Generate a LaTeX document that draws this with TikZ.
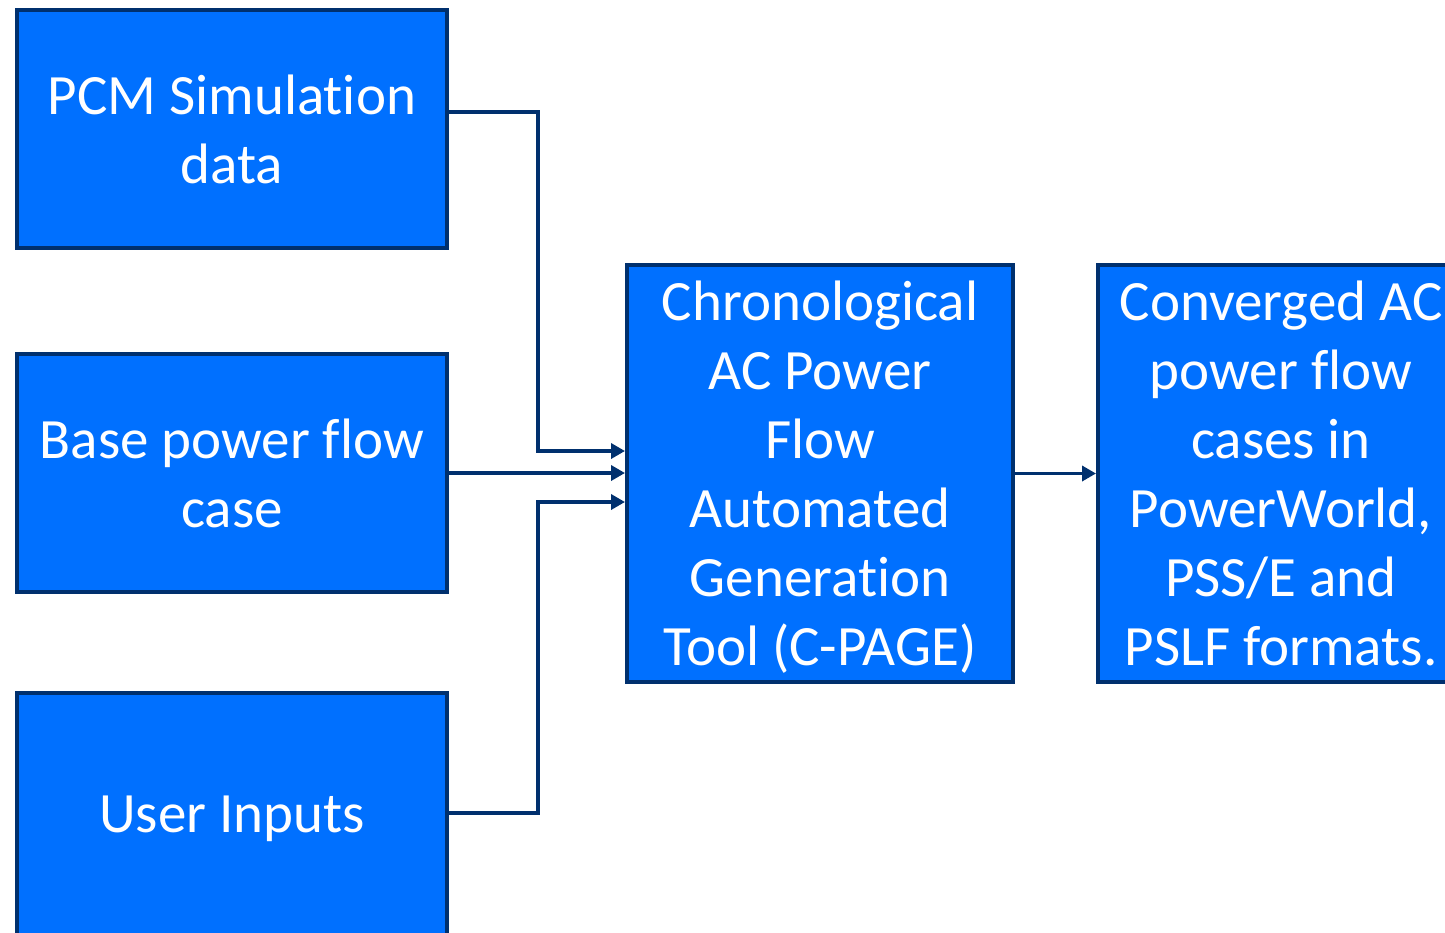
\documentclass[tikz,border=0pt]{standalone}
\usepackage{fontspec}
\setmainfont{Carlito}[Ligatures=NoCommon]
\usetikzlibrary{arrows.meta}
\definecolor{boxfill}{HTML}{0070FF}
\definecolor{boxedge}{HTML}{00306E}
% a strut that lowers the lines of the tall boxes a little
\newcommand{\headroom}{\rule{0pt}{54.5pt}}
\tikzset{
  flowbox/.style={draw=boxedge, line width=4pt, fill=boxfill, text=white,
    inner sep=0pt, font=\fontsize{57}{69}\selectfont},
  conn/.style={draw=boxedge, line width=3.5pt,
    -{Triangle[length=14pt,width=15pt]}}
}
\begin{document}
\begin{tikzpicture}[x=1pt,y=-1pt]
  \useasboundingbox (0,0) rectangle (1445,932);
  % input boxes
  \node[flowbox, align=center, minimum width=430pt, minimum height=238pt] (pcm) at (232,129)
    {PCM Simulation\\data};
  \node[flowbox, align=center, minimum width=430pt, minimum height=238pt] (base) at (232,473)
    {Base power flow\\case};
  \node[flowbox, align=center, minimum width=430pt, minimum height=252pt] (user) at (232,819)
    {User Inputs};
  % tool box
  \node[flowbox, minimum width=386pt, minimum height=417pt] (tool) at (820,473.5)
    {\begin{tabular}{@{}c@{}}
      \headroom Chronological\\AC Power\\Flow\\Automated\\Generation\\Tool (C-PAGE)\\[-6pt]
     \end{tabular}};
  % output box, running past the right edge; the text sits left of the box centre
  \node[flowbox, minimum width=386pt, minimum height=417pt] (out) at (1291,473.5)
    {\begin{tabular}{@{}c@{\hspace{20pt}}}
      \headroom Converged AC\\power flow\\cases in\\PowerWorld,\\PSS/E and\\PSLF formats.\\[-6pt]
     \end{tabular}};
  % connectors
  \draw[conn] ([yshift=17pt]pcm.east) -- ++(89,0) |- ([yshift=22.5pt]tool.west);
  \draw[conn] (base.east) -- (base.east -| tool.west);
  \draw[conn] ([yshift=6pt]user.east) -- ++(89,0) |- ([yshift=-28.5pt]tool.west);
  \draw[conn] (tool.east) -- (tool.east -| out.west);
\end{tikzpicture}
\end{document}
